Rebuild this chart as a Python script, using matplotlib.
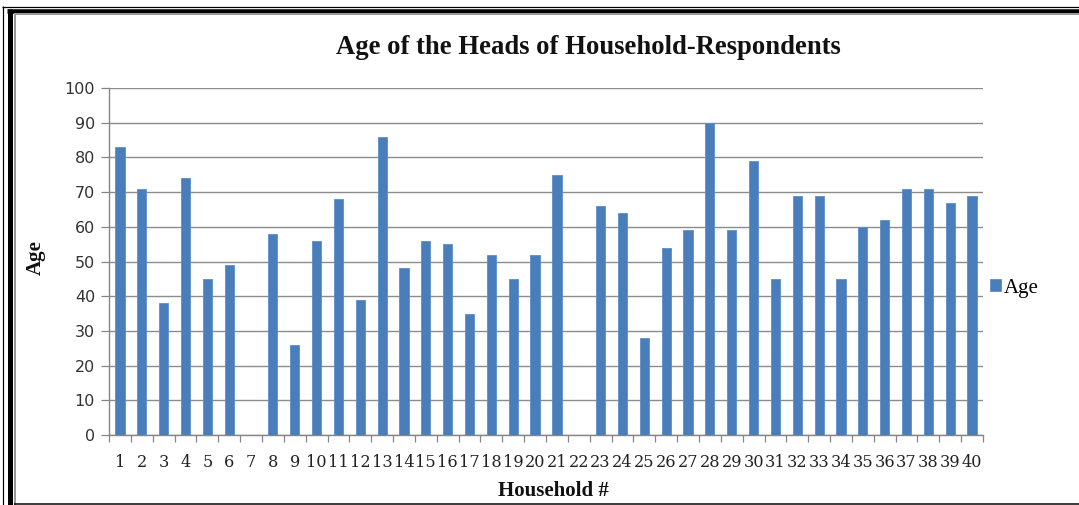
import numpy as np
import matplotlib
matplotlib.use("Agg")
import matplotlib.pyplot as plt
from matplotlib.lines import Line2D

# ---- data ----
households = list(range(1, 41))
ages = [83, 71, 38, 74, 45, 49, np.nan, 58, 26, 56,
        68, 39, 86, 48, 56, 55, 35, 52, 45, 52,
        75, np.nan, 66, 64, 28, 54, 59, 90, 59, 79,
        45, 69, 69, 45, 60, 62, 71, 71, 67, 69]
title = "Age of the Heads of Household-Respondents"
xlabel = "Household #"
ylabel = "Age"
series_name = "Age"
yticks = list(range(0, 101, 10))

W, H = 1079, 505
DPI = 100
fig = plt.figure(figsize=(W / DPI, H / DPI), dpi=DPI)
fig.patch.set_facecolor("white")

def fx(x):
    return x / W

def fy(y):
    return 1 - y / H

# plot area
left, right, top, bottom = 109, 983, 88, 435
ax = fig.add_axes([fx(left), fy(bottom), fx(right - left), (bottom - top) / H])

bar_color = "#4A7EBB"
bars = ax.bar(households, ages, width=0.42, color=bar_color, edgecolor="#5B8FCB",
              linewidth=0.6, zorder=3, label=series_name)

ax.set_xlim(0.5, 40.5)
ax.set_ylim(0, 100)
ax.set_yticks(yticks)
ax.set_xticks(households)
ax.set_xticklabels([str(h) for h in households], fontfamily="DejaVu Serif",
                   fontsize=11.6, color="#222222")
ax.set_yticklabels([str(t) for t in yticks], fontfamily="DejaVu Sans",
                   fontsize=11.5, color="#333333")

# minor ticks at category boundaries
ax.set_xticks(np.arange(0.5, 41, 1), minor=True)
ax.tick_params(axis="x", which="major", length=0, pad=14)
ax.tick_params(axis="x", which="minor", length=5, color="#868686", width=0.9)
ax.tick_params(axis="y", length=6, color="#868686", width=0.9, pad=4)

ax.grid(axis="y", color="#8C8C8C", linewidth=1.0, zorder=0)
ax.set_axisbelow(True)
for s in ["top", "right"]:
    ax.spines[s].set_visible(False)
for s in ["left", "bottom"]:
    ax.spines[s].set_color("#868686")
    ax.spines[s].set_linewidth(1.0)

# titles
fig.text(fx(588), fy(48), title, ha="center", va="center",
         fontfamily="Liberation Serif", fontweight="bold", fontsize=19.2, color="#111111")
fig.text(fx(553), fy(491), xlabel, ha="center", va="center",
         fontfamily="Liberation Serif", fontweight="bold", fontsize=15, color="#111111")
fig.text(fx(36), fy(258), ylabel, ha="center", va="center", rotation=90,
         fontfamily="Liberation Serif", fontweight="bold", fontsize=15, color="#111111")

# legend
leg = fig.legend(handles=[bars], labels=[series_name], loc="center left",
                 bbox_to_anchor=(fx(990), fy(288)), frameon=False,
                 prop={"family": "Liberation Serif", "size": 15},
                 handlelength=0.52, handleheight=0.52, handletextpad=0.15,
                 borderpad=0, borderaxespad=0)

# frame border
def hline(y, x0, x1, lw, color):
    fig.add_artist(Line2D([fx(x0), fx(x1)], [fy(y), fy(y)], transform=fig.transFigure,
                          color=color, linewidth=lw, solid_capstyle="butt"))

def vline(x, y0, y1, lw, color):
    fig.add_artist(Line2D([fx(x), fx(x)], [fy(y0), fy(y1)], transform=fig.transFigure,
                          color=color, linewidth=lw, solid_capstyle="butt"))

pt = 72 / DPI
# outer thin
hline(6.5, 2, W, 1.2 * pt, "black")
vline(2.5, 6, H, 1.2 * pt, "black")
# thick
hline(11, 7, W, 4.5 * pt, "black")
vline(9.5, 9, H, 5 * pt, "black")
# gray inner
hline(14, 14, W, 2 * pt, "#999999")
vline(14.5, 13, H, 2 * pt, "#999999")
# bottom
hline(503.5, 14, W, 1.5 * pt, "black")

fig.savefig("out.png", dpi=DPI, facecolor="white")
